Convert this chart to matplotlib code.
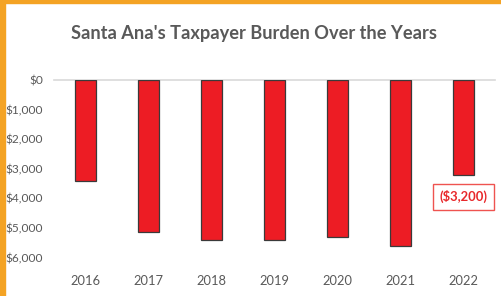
import matplotlib
matplotlib.use("Agg")
import matplotlib.pyplot as plt
from matplotlib.patches import Rectangle
from matplotlib.ticker import FuncFormatter

years = ["2016", "2017", "2018", "2019", "2020", "2021", "2022"]
burden = [-3400, -5150, -5400, -5400, -5300, -5600, -3200]
yticks = [0, -1000, -2000, -3000, -4000, -5000, -6000]
callout = "($3,200)"
title = "Santa Ana's Taxpayer Burden Over the Years"

FONT = ["Lato", "DejaVu Sans"]
GRAY = "#595959"

W, H = 501, 296
fig = plt.figure(figsize=(W / 100, H / 100), dpi=100)
fig.patch.set_facecolor("white")
renderer = fig.canvas.get_renderer()


def size_for(s, target_px, weight="normal"):
    t = fig.text(0, 0, s, fontsize=10, family=FONT, fontweight=weight)
    w = t.get_window_extent(renderer=renderer).width
    t.remove()
    return 10 * target_px / w


ax = fig.add_axes([54 / W, 1 - 257.5 / H, (495 - 54) / W, (257.5 - 80) / H])
x = range(len(years))
ax.bar(x, burden, width=0.34, color="#ED1C24", edgecolor="#3a3a3a", linewidth=0.9, zorder=3)
ax.set_xlim(-0.5, len(years) - 0.5)
ax.set_ylim(-6000, 0)
ax.set_yticks(yticks)
ax.yaxis.set_major_formatter(FuncFormatter(lambda v, p: "${:,.0f}".format(abs(v))))
ax.set_xticks(list(x))
ax.set_xticklabels(years)
for s in ["left", "right", "bottom"]:
    ax.spines[s].set_visible(False)
ax.spines["top"].set_color("#d9d9d9")
ax.spines["top"].set_linewidth(1.2)
ax.tick_params(axis="both", length=0, colors=GRAY)
ax.tick_params(axis="y", pad=8, labelsize=size_for("$1,000", 37))
ax.tick_params(axis="x", pad=12.5, labelsize=size_for("2016", 30))
for lab in ax.get_xticklabels() + ax.get_yticklabels():
    lab.set_fontfamily(FONT)

ax.text(len(years) - 1, -3950, callout, ha="center", va="center", color="#E8282B",
        fontsize=size_for(callout, 48, "bold"), fontweight="bold", family=FONT,
        bbox=dict(boxstyle="square,pad=0.5", facecolor="white", edgecolor="#EF5350", linewidth=1.0))

fig.text(254 / W, 1 - 33 / H, title, ha="center", va="center", color=GRAY,
         fontsize=size_for(title, 366, "bold"), fontweight="bold", family=FONT)

# orange frame on left and top
fig.patches.append(Rectangle((0, 0), 5 / W, 1, transform=fig.transFigure, color="#F4A324", zorder=10))
fig.patches.append(Rectangle((0, 1 - 2.5 / H), 1, 2.5 / H, transform=fig.transFigure, color="#F4A324", zorder=10))

fig.savefig("out.png", dpi=100)
